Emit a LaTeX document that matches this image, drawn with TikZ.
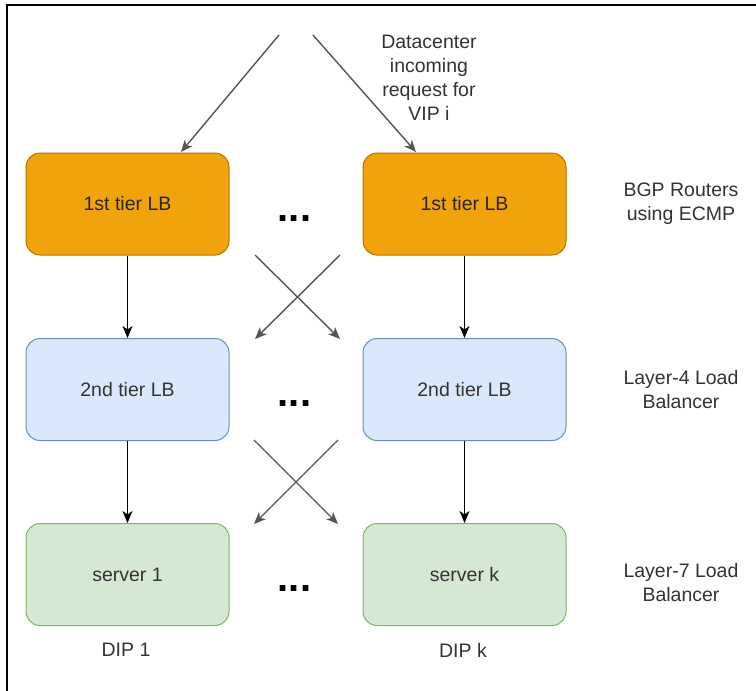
\documentclass[tikz,border=0pt]{standalone}
\usepackage{fontspec}
\setmainfont{Liberation Sans}
\usetikzlibrary{arrows.meta}
\definecolor{orfill}{HTML}{F0A30A}
\definecolor{ordraw}{HTML}{BD7000}
\definecolor{blfill}{HTML}{DAE8FC}
\definecolor{bldraw}{HTML}{6C8EBF}
\definecolor{grfill}{HTML}{D5E8D4}
\definecolor{grdraw}{HTML}{82B366}
\definecolor{txtc}{HTML}{333333}
\definecolor{linkc}{HTML}{555555}
\tikzset{
  tier/.style={rounded corners=14pt, minimum width=203pt, minimum height=102pt,
    line width=1pt, font=\fontsize{19.5}{24}\selectfont, text=txtc, inner sep=0pt},
  tierA/.style={tier, fill=orfill, draw=ordraw, text=black!85},
  tierB/.style={tier, fill=blfill, draw=bldraw},
  tierC/.style={tier, fill=grfill, draw=grdraw},
  lbl/.style={font=\fontsize{19.5}{24}\selectfont, text=txtc, align=center, inner sep=0pt},
  dots/.style={font=\fontsize{40}{40}\selectfont\bfseries, text=black, inner sep=0pt},
  vlink/.style={line width=1.2pt, draw=black, -{Stealth[length=12pt,width=10pt,inset=3.5pt]}},
  xlink/.style={line width=1.4pt, draw=linkc, -{Stealth[length=12pt,width=10pt,inset=3.5pt]}},
}
\begin{document}
\begin{tikzpicture}[x=1pt,y=-1pt]
\useasboundingbox (0,0) rectangle (756,691);
\fill[white] (0,0) rectangle (756,691);
\draw[line width=2pt] (7,691) -- (7,5) -- (756,5);

% boxes
\node[tierA] (a1) at (127.5,204) {1st tier LB};
\node[tierA] (a2) at (464.5,204) {1st tier LB};
\node[tierB] (b1) at (127.5,389.5) {2nd tier LB};
\node[tierB] (b2) at (464.5,389.5) {2nd tier LB};
\node[tierC] (c1) at (127.5,574.5) {server 1};
\node[tierC] (c2) at (464.5,574.5) {server k};

% dots
\node[dots] (d1) at (294.5,219) {...};
\node[dots] (d2) at (294.5,404) {...};
\node[dots] (d3) at (294.5,589) {...};

% labels
\node[lbl] (dc) at (429,78) {Datacenter\\incoming\\request for\\VIP i};
\node[lbl] (bgp) at (681,204) {BGP Routers\\using ECMP};
\node[lbl] (l4) at (681,389.5) {Layer-4 Load\\Balancer};
\node[lbl] (l7) at (681,583) {Layer-7 Load\\Balancer};
\node[lbl] (dip1) at (126,650) {DIP 1};
\node[lbl] (dipk) at (463,650) {DIP k};

% incoming
\coordinate (inL) at (279,35);
\coordinate (inR) at (313,35);
\coordinate (tL) at (181,152);
\coordinate (tR) at (416,152);
\draw[xlink] (inL) -- (tL);
\draw[xlink] (inR) -- (tR);

% vertical links
\draw[vlink] (a1.south) -- (b1.north);
\draw[vlink] (a2.south) -- (b2.north);
\draw[vlink] (b1.south) -- (c1.north);
\draw[vlink] (b2.south) -- (c2.north);

% crosses
\coordinate (x1a) at (255,255);
\coordinate (x1b) at (340,255);
\coordinate (x1c) at (255,339);
\coordinate (x1d) at (340,339);
\draw[xlink] (x1a) -- (x1d);
\draw[xlink] (x1b) -- (x1c);
\coordinate (x2a) at (254,440);
\coordinate (x2b) at (338,440);
\coordinate (x2c) at (254,524);
\coordinate (x2d) at (338,524);
\draw[xlink] (x2a) -- (x2d);
\draw[xlink] (x2b) -- (x2c);
\end{tikzpicture}
\end{document}
